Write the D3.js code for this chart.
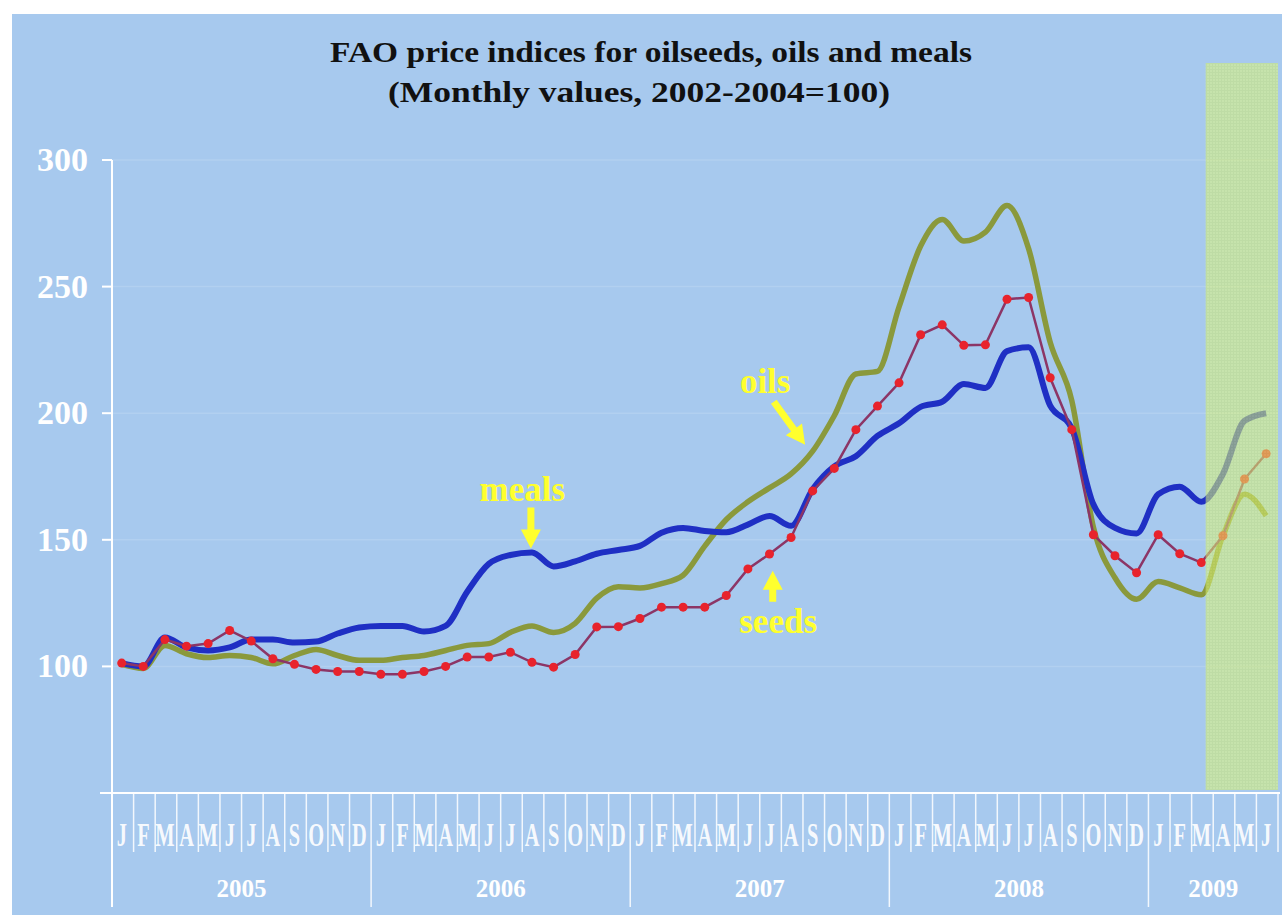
<!DOCTYPE html>
<html>
<head>
  <title>FAO price indices</title>
  <meta charset="utf-8">
  <script src="https://d3js.org/d3.v7.min.js"></script>
  <style type="text/css">
    body { margin: 0; background: #ffffff; }
    svg { display: block; }
    text { font-family: "Liberation Serif", "DejaVu Serif", serif; font-weight: bold; }
  </style>
</head>
<body>
  <div id="chart"></div>
<script type="text/javascript">
  // month letters / years along the bottom
  const monthLetters = ['J', 'F', 'M', 'A', 'M', 'J', 'J', 'A', 'S', 'O', 'N', 'D'];
  const years = [2005, 2006, 2007, 2008, 2009];
  const monthsInYear = [12, 12, 12, 12, 6];
  const yTicks = [100, 150, 200, 250, 300];

  // monthly index values, Jan 2005 .. Jun 2009
  const seeds = [101.3, 100, 110.6, 108, 109, 114.2, 110, 103, 100.8, 98.8, 98, 98,
    96.9, 96.9, 98, 100, 103.7, 103.7, 105.6, 101.6, 99.7, 104.7, 115.6, 115.7,
    118.9, 123.4, 123.4, 123.4, 128, 138.5, 144.4, 150.9, 169.3, 178.2, 193.5, 202.8,
    212, 231, 234.9, 226.8, 227, 245, 245.7, 214, 193.5, 152, 143.7, 137,
    152, 144.5, 141, 151.6, 174, 184];
  const oils = [100.8, 99.2, 108.3, 105, 103.5, 104.3, 103.5, 101, 104.3, 106.7, 104.3, 102.4,
    102.4, 103.5, 104.3, 106.3, 108.3, 109, 113.4, 116, 113.4, 117, 127, 131.5,
    131, 132.7, 136, 147.5, 158, 165, 170.5, 176, 185, 199, 215.5, 216.5,
    242, 266, 276.5, 268, 271.5, 282, 265, 228, 205, 155, 135, 126.5,
    133.5, 131, 128.3, 151.6, 168, 159.5];
  const meals = [101.3, 100, 111.4, 107.5, 106.3, 107.5, 110.6, 110.6, 109.4, 109.8, 113, 115.4,
    116, 116, 113.8, 116, 129.5, 140.5, 144, 145, 139.5, 141.5, 144.5, 146,
    147.6, 152.8, 154.7, 153.5, 153, 156, 159.4, 155.5, 170, 179, 183, 191,
    196, 202.5, 204.5, 211.5, 210, 224.5, 226, 203, 194, 164, 154.7, 152.5,
    168, 171, 165, 176, 197, 200];

  // shaded 2009 block, in months from Jan 2005
  const shadeFrom = 50.65;
  const shadeTo = 54;

  // labels with arrows, in (month, index value)
  const notes = [
    { text: 'meals', at: [19.0, 165.3], from: [19.4, 162.8], to: [19.4, 146.6] },
    { text: 'oils', at: [30.25, 208], from: [30.65, 204.5], to: [32.1, 187.5] },
    { text: 'seeds', at: [30.85, 113.2], from: [30.6, 125.5], to: [30.6, 137.8] }
  ];

  const width = 1282, height = 915;
  const svg = d3.select('#chart').append('svg')
    .attr('width', width)
    .attr('height', height);

  const defs = svg.append('defs');
  const pat = defs.append('pattern')
    .attr('id', 'dots')
    .attr('width', 3).attr('height', 3)
    .attr('patternUnits', 'userSpaceOnUse');
  pat.append('rect').attr('width', 3).attr('height', 3).attr('fill', '#dcf57c');
  pat.append('path').attr('d', 'M0 0.5H3M0.5 0V3')
    .attr('stroke', '#cfea70').attr('stroke-width', 1);

  svg.append('rect')
    .attr('x', 12).attr('y', 14)
    .attr('width', width - 12).attr('height', height - 14)
    .attr('fill', '#a7c9ee');

  const nMonths = d3.sum(monthsInYear);
  const x = d3.scaleLinear().domain([0, nMonths]).range([112, 1278]);
  const y = d3.scaleLinear().domain([50, 300]).range([793, 160]);
  const px = i => x(i + 0.45);

  // faint gridlines
  svg.append('g').selectAll('line').data(yTicks).join('line')
    .attr('x1', 112).attr('x2', 1278)
    .attr('y1', d => y(d)).attr('y2', d => y(d))
    .attr('stroke', '#ffffff').attr('stroke-opacity', 0.13).attr('stroke-width', 1.5);

  // y axis
  const yAxis = svg.append('g');
  yAxis.append('line')
    .attr('x1', 112).attr('x2', 112).attr('y1', y(300)).attr('y2', 907)
    .attr('stroke', '#ffffff').attr('stroke-width', 2);
  yAxis.selectAll('.tick').data(yTicks).join('line')
    .attr('x1', 102).attr('x2', 112)
    .attr('y1', d => y(d)).attr('y2', d => y(d))
    .attr('stroke', '#ffffff').attr('stroke-width', 2);
  yAxis.selectAll('text').data(yTicks).join('text')
    .attr('x', 88).attr('y', d => y(d) + 11)
    .attr('text-anchor', 'end')
    .attr('fill', '#ffffff')
    .attr('font-size', 34)
    .text(d => d);

  // x axis with month and year bands
  const xAxis = svg.append('g');
  xAxis.append('line')
    .attr('x1', 100).attr('x2', 1280).attr('y1', 793).attr('y2', 793)
    .attr('stroke', '#ffffff').attr('stroke-width', 2);
  const monthIdx = d3.range(nMonths);
  xAxis.selectAll('.sep').data(d3.range(1, nMonths + 1)).join('line')
    .attr('x1', d => x(d)).attr('x2', d => x(d))
    .attr('y1', 793).attr('y2', d => (d % 12 === 0 ? 907 : 852))
    .attr('stroke', '#ffffff').attr('stroke-opacity', 0.85).attr('stroke-width', 1.5);
  xAxis.selectAll('.mlab').data(monthIdx).join('text')
    .attr('transform', d => `translate(${x(d + 0.5) - 1},846) scale(0.6,1)`)
    .attr('text-anchor', 'middle')
    .attr('fill', '#ffffff')
    .attr('fill-opacity', 0.92)
    .attr('font-size', 34)
    .text(d => monthLetters[d % 12]);
  let start = 0;
  const yearSpans = years.map((yr, k) => {
    const s = { year: yr, a: start, b: start + monthsInYear[k] };
    start += monthsInYear[k];
    return s;
  });
  xAxis.selectAll('.ylab').data(yearSpans).join('text')
    .attr('x', d => x((d.a + d.b) / 2))
    .attr('y', 897)
    .attr('text-anchor', 'middle')
    .attr('fill', '#ffffff')
    .attr('font-size', 25)
    .text(d => d.year);

  // series
  const line = d3.line().x((d, i) => px(i)).y(d => y(d));
  const smooth = d3.line().x((d, i) => px(i)).y(d => y(d)).curve(d3.curveMonotoneX);

  svg.append('path').datum(oils)
    .attr('d', smooth)
    .attr('fill', 'none')
    .attr('stroke', '#8a993c')
    .attr('stroke-width', 5.5)
    .attr('stroke-linejoin', 'round');

  svg.append('path').datum(meals)
    .attr('d', smooth)
    .attr('fill', 'none')
    .attr('stroke', '#1f2fc4')
    .attr('stroke-width', 6)
    .attr('stroke-linejoin', 'round');

  svg.append('path').datum(seeds)
    .attr('d', line)
    .attr('fill', 'none')
    .attr('stroke', '#8c3566')
    .attr('stroke-width', 2.5);
  svg.append('g').selectAll('circle').data(seeds).join('circle')
    .attr('cx', (d, i) => px(i))
    .attr('cy', d => y(d))
    .attr('r', 4.5)
    .attr('fill', '#e8232c');

  // shaded 2009 block laid over the lines
  svg.append('rect')
    .attr('x', x(shadeFrom)).attr('y', 63)
    .attr('width', x(shadeTo) - x(shadeFrom))
    .attr('height', 790 - 63)
    .attr('fill', 'url(#dots)')
    .attr('opacity', 0.58);

  // yellow labels and arrows
  const arrow = (p, q) => {
    const x1 = x(p[0]), y1 = y(p[1]), x2 = x(q[0]), y2 = y(q[1]);
    const len = Math.hypot(x2 - x1, y2 - y1);
    const ux = (x2 - x1) / len, uy = (y2 - y1) / len;
    const nx = -uy, ny = ux;
    const sw = 3.5, hw = 10, hl = 19;
    const bx = x2 - ux * hl, by = y2 - uy * hl;
    const pts = [
      [x1 + nx * sw, y1 + ny * sw], [bx + nx * sw, by + ny * sw], [bx + nx * hw, by + ny * hw],
      [x2, y2],
      [bx - nx * hw, by - ny * hw], [bx - nx * sw, by - ny * sw], [x1 - nx * sw, y1 - ny * sw]
    ];
    return 'M' + pts.map(pt => pt.join(',')).join('L') + 'Z';
  };
  const ann = svg.append('g');
  ann.selectAll('path').data(notes).join('path')
    .attr('d', d => arrow(d.from, d.to))
    .attr('fill', '#ffff2e');
  ann.selectAll('text').data(notes).join('text')
    .attr('x', d => x(d.at[0]))
    .attr('y', d => y(d.at[1]))
    .attr('text-anchor', 'middle')
    .attr('fill', '#ffff2e')
    .attr('font-size', 35)
    .text(d => d.text);

  // title
  svg.append('text')
    .attr('x', 651).attr('y', 62)
    .attr('text-anchor', 'middle')
    .attr('font-size', 30)
    .attr('fill', '#111111')
    .attr('textLength', 642)
    .attr('lengthAdjust', 'spacingAndGlyphs')
    .text('FAO price indices for oilseeds, oils and meals');
  svg.append('text')
    .attr('x', 639).attr('y', 102)
    .attr('text-anchor', 'middle')
    .attr('font-size', 30)
    .attr('fill', '#111111')
    .attr('textLength', 502)
    .attr('lengthAdjust', 'spacingAndGlyphs')
    .text('(Monthly values, 2002-2004=100)');
</script>
</body>
</html>
